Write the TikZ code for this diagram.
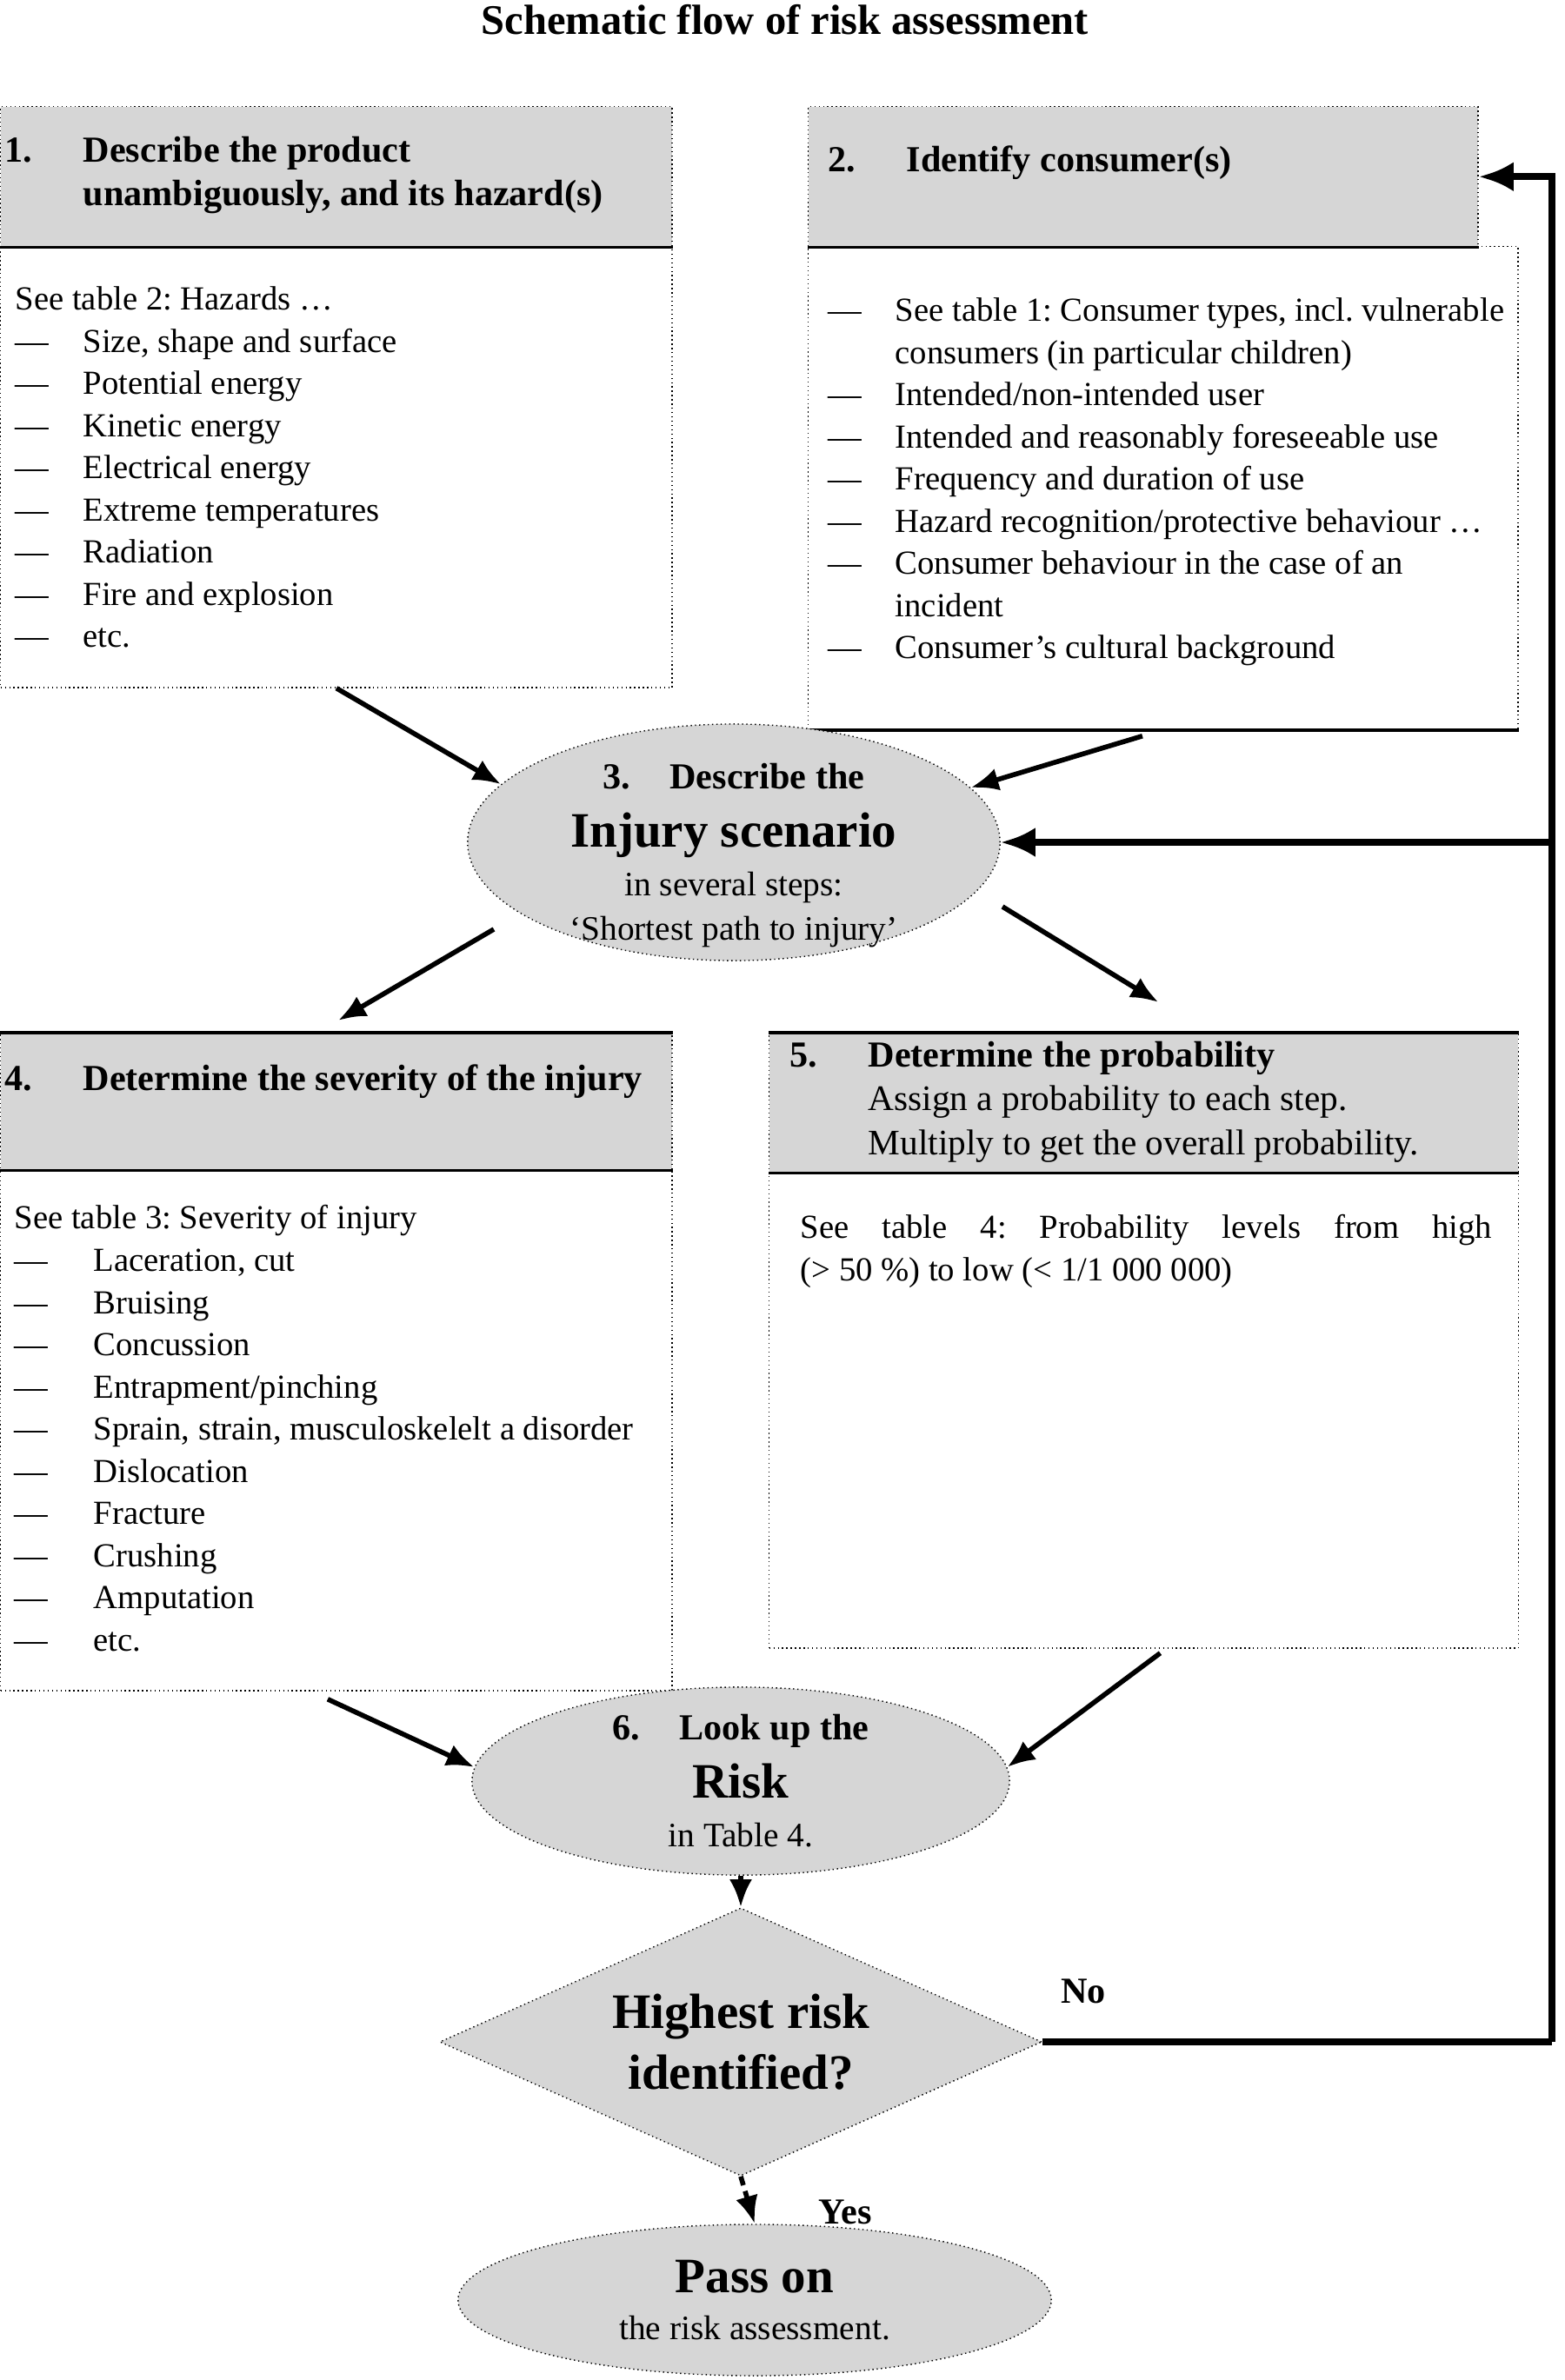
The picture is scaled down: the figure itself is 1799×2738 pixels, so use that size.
\documentclass[tikz,border=0pt]{standalone}
\usepackage{fontspec}
\setmainfont{Liberation Serif}
\usetikzlibrary{arrows.meta,positioning,calc,shapes.geometric}
\frenchspacing

\newcommand{\bodyfont}{\fontsize{11pt}{13.8pt}\selectfont}
\newcommand{\headfont}{\fontsize{12pt}{14.2pt}\selectfont\bfseries}
\newcommand{\ovalfont}{\fontsize{11.2pt}{14.5pt}\selectfont}
\newcommand{\flowbig}{\fontsize{16.2pt}{18pt}\selectfont\bfseries}
\newcommand{\dashitem}[2][0.78cm]{\makebox[#1][l]{---}#2}
\newcommand{\stepno}[2]{\makebox[0.9cm][l]{#1}#2}

\begin{document}
\begin{tikzpicture}[x=0.01cm,y=-0.01cm,
  headbox/.style={draw,densely dotted,fill=black!16,anchor=north west,inner sep=0pt},
  bodybox/.style={draw,densely dotted,fill=white,anchor=north west,inner sep=0pt},
  boxtext/.style={anchor=north west,align=left,inner sep=0pt,font=\bodyfont},
  headtext/.style={anchor=north west,align=left,inner sep=0pt,font=\headfont},
  bubble/.style={ellipse,draw,densely dotted,fill=black!16,inner sep=0pt,align=center,font=\ovalfont},
  decision/.style={diamond,draw,densely dotted,fill=black!16,inner sep=0pt,aspect=2.25,align=center,
    font=\fontsize{16.2pt}{20pt}\selectfont\bfseries},
  rule/.style={line width=1pt},
  flow/.style={-{Latex[length=0.32cm,width=0.26cm]},line width=1.6pt},
  loopline/.style={line width=2.4pt},
  lbl/.style={font=\headfont,inner sep=0pt}]

\useasboundingbox (0,0) rectangle (1799,2738);

\node[font=\fontsize{13.8pt}{16pt}\selectfont\bfseries] (title) at (903,23) {Schematic flow of risk assessment};

% step 1 and 2
\node[headbox,minimum width=7.72cm,minimum height=1.61cm] (h1) at (0,122) {};
\node[bodybox,minimum width=7.72cm,minimum height=5.07cm] (b1) at (0,283) {};
\draw[rule] (h1.south west) -- (h1.south east);
\node[headtext] (t1) at (5,157) {\stepno{1.}{Describe the product}\\ \hspace*{0.9cm}unambiguously, and its hazard(s)};
\node[boxtext] (l1) at (17,329) {See table 2: Hazards …\\
  \dashitem{Size, shape and surface}\\
  \dashitem{Potential energy}\\
  \dashitem{Kinetic energy}\\
  \dashitem{Electrical energy}\\
  \dashitem{Extreme temperatures}\\
  \dashitem{Radiation}\\
  \dashitem{Fire and explosion}\\
  \dashitem{etc.}};

\node[headbox,minimum width=7.70cm,minimum height=1.61cm] (h2) at (929,122) {};
\node[bodybox,minimum width=8.16cm,minimum height=5.55cm] (b2) at (929,283) {};
\draw[rule] (h2.south west) -- (h2.south east);
\draw[rule] (b2.south west) -- (b2.south east);
\node[headtext] (t2) at (952,167) {\stepno{2.}{Identify consumer(s)}};
\node[boxtext] (l2) at (952,342) {\dashitem[0.77cm]{See table 1: Consumer types, incl. vulnerable}\\
  \hspace*{0.77cm}consumers (in particular children)\\
  \dashitem[0.77cm]{Intended/non-intended user}\\
  \dashitem[0.77cm]{Intended and reasonably foreseeable use}\\
  \dashitem[0.77cm]{Frequency and duration of use}\\
  \dashitem[0.77cm]{Hazard recognition/protective behaviour …}\\
  \dashitem[0.77cm]{Consumer behaviour in the case of an}\\
  \hspace*{0.77cm}incident\\
  \dashitem[0.77cm]{Consumer's cultural background}};

% step 3
\node[bubble,inner ysep=-0.3cm,minimum width=6.12cm,minimum height=2.72cm] (e3) at (844,969)
  {{\headfont\rule{0pt}{17pt}3.\hspace{0.45cm}Describe the}\\[4.5pt] {\flowbig Injury scenario}\\[1.5pt] in several steps:\\ `Shortest path to injury'};

% step 4 and 5
\node[headbox,minimum width=7.72cm,minimum height=1.57cm] (h4) at (0,1188) {};
\node[bodybox,minimum width=7.72cm,minimum height=5.99cm] (b4) at (0,1345) {};
\draw[rule] (h4.north west) -- (h4.north east);
\draw[rule] (h4.south west) -- (h4.south east);
\node[headtext] (t4) at (5,1224) {\stepno{4.}{Determine the severity of the injury}};
\node[boxtext] (l4) at (16,1386) {See table 3: Severity of injury\\
  \dashitem[0.91cm]{Laceration, cut}\\
  \dashitem[0.91cm]{Bruising}\\
  \dashitem[0.91cm]{Concussion}\\
  \dashitem[0.91cm]{Entrapment/pinching}\\
  \dashitem[0.91cm]{Sprain, strain, musculoskelelt a disorder}\\
  \dashitem[0.91cm]{Dislocation}\\
  \dashitem[0.91cm]{Fracture}\\
  \dashitem[0.91cm]{Crushing}\\
  \dashitem[0.91cm]{Amputation}\\
  \dashitem[0.91cm]{etc.}};

\node[headbox,minimum width=8.61cm,minimum height=1.60cm] (h5) at (884,1188) {};
\node[bodybox,minimum width=8.61cm,minimum height=5.47cm] (b5) at (884,1348) {};
\draw[rule] (h5.north west) -- (h5.north east);
\draw[rule] (h5.south west) -- (h5.south east);
\node[headtext,font=\fontsize{11.75pt}{14.5pt}\selectfont] (t5) at (908,1197) {\stepno{\fontsize{12pt}{14.5pt}\selectfont\bfseries 5.}{\fontsize{12pt}{14.5pt}\selectfont\bfseries Determine the probability}\\
  \hspace*{0.9cm}Assign a probability to each step.\\
  \hspace*{0.9cm}Multiply to get the overall probability.};
\node[boxtext,text width=7.95cm,align=justify] (l5) at (920,1397)
  {See table 4: Probability levels from high\linebreak (>~50~\%) to low (<~1/1~000~000)};

% step 6 and decision
\node[bubble,minimum width=6.18cm,minimum height=2.10cm] (e6) at (852,2049)
  {{\headfont 6.\hspace{0.45cm}Look up the}\\[4.5pt] {\flowbig Risk}\\[1.5pt] in Table 4.};
\node[decision,minimum width=6.92cm,minimum height=3.08cm] (dia) at (852,2349) {Highest risk\\ identified?};
\node[bubble,minimum width=6.82cm,minimum height=1.74cm] (pass) at (868,2646)
  {{\flowbig Pass on}\\[1pt] the risk assessment.};

% connectors
\draw[flow] (b1.south) -- (e3.166);
\draw[flow] ($(b2.south)+(-24,7)$) -- (e3.13);
\draw[flow] ($(e3.center)+(-276,100)$) -- ($(h4.north)+(2,-14)$);
\draw[flow] ($(e3.center)+(309,74)$) -- ($(h5.north)+(17,-35)$);
\draw[flow] ($(b4.south)+(-10,9)$) -- (e6.177);
\draw[flow] ($(b5.south)+(19,5)$) -- (e6.3);
\draw[flow] (e6.south) -- (dia.north);
\draw[flow,densely dashed] (dia.south) -- node[lbl,pos=0.75,right=0.75cm] {Yes} (pass.north);

\coordinate (rail) at (1785,2349);
\draw[loopline] (dia.east) -- node[lbl,pos=0.08,above=0.4cm] {No} (rail);
\draw[loopline,-{Latex[length=0.4cm,width=0.34cm]}] (rail) |- (h2.east);
\draw[loopline,-{Latex[length=0.4cm,width=0.34cm]}] (rail |- e3.east) -- (e3.east);
\end{tikzpicture}
\end{document}
